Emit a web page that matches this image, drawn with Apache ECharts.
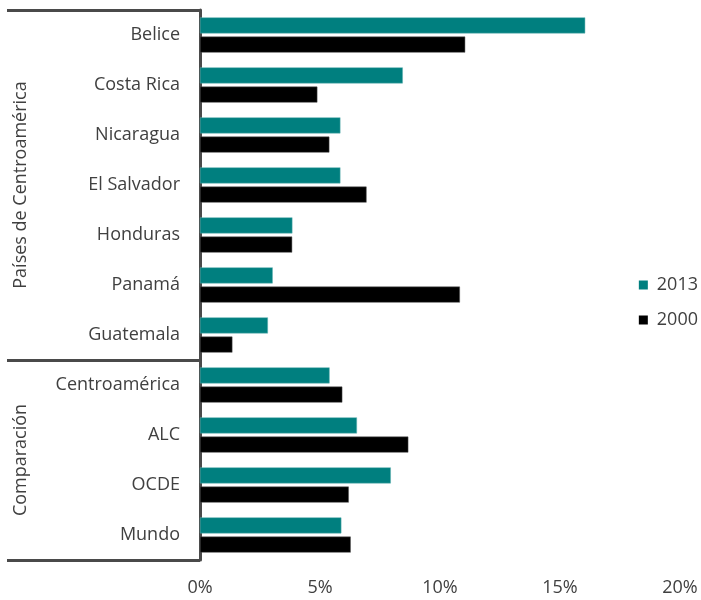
<!DOCTYPE html>
<html>
<head>
<meta charset="utf-8">
<script src="https://cdn.jsdelivr.net/npm/echarts@6/dist/echarts.min.js"></script>
<style>html,body{margin:0;padding:0;background:#fff;}#main{width:701px;height:600px;}</style>
</head>
<body>
<div id="main"></div>
<script>
const categories = ['Belice','Costa Rica','Nicaragua','El Salvador','Honduras','Panamá','Guatemala','Centroamérica','ALC','OCDE','Mundo'];
const values2013 = [16.05, 8.45, 5.85, 5.85, 3.85, 3.03, 2.83, 5.4, 6.54, 7.95, 5.89];
const values2000 = [11.05, 4.89, 5.39, 6.94, 3.84, 10.83, 1.35, 5.93, 8.68, 6.2, 6.28];
const xTicks = [0, 5, 10, 15, 20];
const groupNames = ['Países de Centroamérica', 'Comparación'];
const groupSizes = [7, 4];

const FONT = 'Open Sans';
const FS = 18;
const TEXT = '#404040';
const LINE = '#4a4a4a';

const boundaries = [0];
groupSizes.forEach(s => boundaries.push(boundaries[boundaries.length - 1] + s));
const groupCenters = groupSizes.map((s, i) => boundaries[i] + s / 2);

const chart = echarts.init(document.getElementById('main'));
chart.setOption({
  animation: false,
  textStyle: { fontFamily: FONT },
  grid: { left: 200, right: 21, top: 10, bottom: 40, containLabel: false },
  legend: {
    orient: 'vertical', right: -2, top: 271, itemWidth: 9, itemHeight: 9, itemGap: 17,
    icon: 'rect',
    itemStyle: { borderWidth: 0 },
    textStyle: { fontFamily: FONT, fontSize: FS, color: TEXT, padding: [0, 0, 0, 4] },
    data: ['2013', '2000']
  },
  xAxis: {
    type: 'value', min: xTicks[0], max: xTicks[xTicks.length - 1], interval: 5,
    axisLine: { show: false }, axisTick: { show: false }, splitLine: { show: false },
    axisLabel: { formatter: v => v + '%', fontSize: FS, color: TEXT, fontFamily: FONT, margin: 19 }
  },
  yAxis: [{
    type: 'category', inverse: true, data: categories,
    axisLine: { show: true, lineStyle: { color: LINE, width: 3 } },
    axisTick: { show: false },
    axisLabel: { fontSize: FS, color: TEXT, fontFamily: FONT, margin: 20 }
  }, {
    type: 'value', inverse: true, min: 0, max: categories.length, position: 'left',
    axisLine: { show: false },
    splitLine: { show: false },
    axisTick: { show: true, customValues: boundaries, length: 193, lineStyle: { color: LINE, width: 3 } },
    axisLabel: {
      customValues: groupCenters, rotate: 90, margin: 170, fontSize: FS, color: TEXT, fontFamily: FONT,
      formatter: v => groupNames[groupCenters.indexOf(v)]
    }
  }],
  series: [{
    name: '2013', type: 'bar', data: values2013, barWidth: 16, barGap: '20%',
    itemStyle: { color: '#007f7f', borderColor: '#5fb0b0', borderWidth: 0.5 }
  }, {
    name: '2000', type: 'bar', data: values2000, barWidth: 16,
    itemStyle: { color: '#000000', borderColor: '#555', borderWidth: 0.5 }
  }]
});
</script>
</body>
</html>
